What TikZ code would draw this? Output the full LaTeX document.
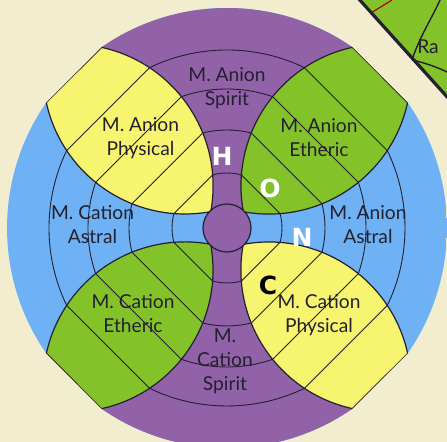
\documentclass[tikz,border=0pt]{standalone}
\usepackage{fontspec}
\setmainfont{Lato}
\newfontfamily\letterfont{DejaVu Sans}
\usetikzlibrary{positioning}

\definecolor{parchment}{RGB}{241,237,206}
\definecolor{ringpurple}{RGB}{145,98,168}
\definecolor{ringblue}{RGB}{110,178,245}
\definecolor{leafyellow}{RGB}{247,244,112}
\definecolor{leafgreen}{RGB}{132,194,42}
\definecolor{inkdark}{RGB}{35,32,48}

\begin{document}
\begin{tikzpicture}[
    x=0.5pt, y=0.5pt,
    zonetext/.style={align=center, text=inkdark, inner sep=0pt, font=\fontsize{9.6}{12}\selectfont},
    element/.style={inner sep=0pt, font=\letterfont\bfseries\fontsize{12.5}{14}\selectfont},
    ringline/.style={draw=inkdark, line width=0.45pt},
    leafline/.style={draw=inkdark, line width=0.6pt}
]
\useasboundingbox (-227,-214) rectangle (220,228);
\fill[parchment] (-227,-214) rectangle (220,228);

% piece of the next chart (top right)
\fill[leafgreen] (133,228) -- (220,131) -- (220,228) -- cycle;
\draw[red!70!black, line width=0.6pt] (144,215) -- (165,228);
\draw[inkdark, line width=0.7pt] (213,228) .. controls (205,210) and (192,190) .. (185,168);
\draw[inkdark, line width=0.7pt] (185,168) .. controls (195,166) and (210,161) .. (220,156);
\node[inner sep=0pt, text=inkdark, font=\fontsize{9.6}{10}\selectfont] (raLabel) at (201,181) {Ra};
\draw[inkdark, line width=1.6pt] (131,230) -- (222,129);

\begin{scope}
  \clip (55.22:220) arc[start angle=55.22, end angle=124.78, radius=220]
     -- (145.22:220) arc[start angle=145.22, end angle=214.78, radius=220]
     -- (235.22:220) arc[start angle=235.22, end angle=304.78, radius=220]
     -- (325.22:220) arc[start angle=325.22, end angle=394.78, radius=220] -- cycle;
  \fill[ringblue] (0,0) circle[radius=230];
  \fill[ringpurple] (0,0) -- (45:240) arc[start angle=45, end angle=135, radius=240] -- cycle;
  \fill[ringpurple] (0,0) -- (225:240) arc[start angle=225, end angle=315, radius=240] -- cycle;
  \foreach \r in {55,98,139,178}
    \draw[ringline] (0,0) circle[radius=\r];

  % the four leaves
  \foreach \rot/\col in {0/leafyellow, -90/leafgreen, 90/leafgreen, 180/leafyellow} {
    \begin{scope}[rotate=\rot]
      \filldraw[fill=\col, leafline] (135:23) arc[start angle=-10.42, end angle=77.59, radius=142]
         -- (145.22:220) arc[start angle=192.41, end angle=280.42, radius=142] -- cycle;
      \foreach \r/\w in {55/29.7, 98/30.7, 139/25.8, 178/19.2}
        \draw[ringline] (135-\w:\r) -- (135+\w:\r);
    \end{scope}
  }
\end{scope}
\filldraw[fill=ringpurple, leafline] (0,0) circle[radius=24];

\node[zonetext] (anionSpirit) at (0,139.5) {M. Anion\\Spirit};
\node[zonetext] (anionPhysical) at (-86.5,89.5) {M. Anion\\Physical};
\node[zonetext] (anionEtheric) at (92,90) {M. Anion\\Etheric};
\node[zonetext] (cationAstral) at (-134.5,3.5) {M. Cation\\Astral};
\node[zonetext] (anionAstral) at (141,3) {M. Anion\\Astral};
\node[zonetext] (cationEtheric) at (-94,-85.5) {M. Cation\\Etheric};
\node[zonetext] (cationPhysical) at (92,-87) {M. Cation\\Physical};
\node[zonetext] (cationSpirit) at (-2,-133.5) {M.\\Cation\\Spirit};

\node[element, text=white] (elemH) at (-5,72) {H};
\node[element, text=white] (elemO) at (43,40) {O};
\node[element, text=white] (elemN) at (75,-9) {N};
\node[element, text=black] (elemC) at (41,-57) {C};
\end{tikzpicture}
\end{document}
